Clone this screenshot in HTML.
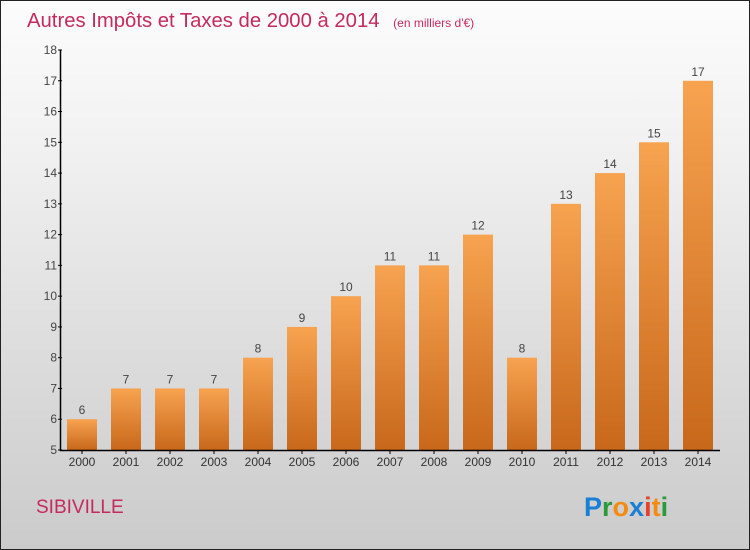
<!DOCTYPE html>
<html><head><meta charset="utf-8"><style>
body{margin:0;width:750px;height:550px;overflow:hidden}
#c{position:absolute;left:0;top:0;width:748px;height:548px;border:1px solid #222;background:linear-gradient(#fcfcfc,#f2f2f2 25%,#dcdcdc 65%,#cbcbcb);font-family:"Liberation Sans",sans-serif}
</style></head><body>
<div id="c">
<svg width="750" height="550" style="position:absolute;left:-1px;top:-1px" id="svg">
<defs><linearGradient id="bg" x1="0" y1="0" x2="0" y2="1"><stop offset="0" stop-color="#f7a350"/><stop offset="1" stop-color="#c8681a"/></linearGradient></defs>
<text x="27" y="27" font-size="20.3" fill="#c42a5e">Autres Impôts et Taxes de 2000 à 2014 <tspan font-size="12" dx="8">(en milliers d'€)</tspan></text>
<text x="36" y="513" font-size="19" fill="#c42a5e">SIBIVILLE</text>
<g font-size="27" font-weight="bold" font-family="'Liberation Sans',sans-serif">
<text x="584" y="516" fill="#1a7fd4">P<tspan fill="#2a9a3a">r</tspan><tspan fill="#f58a10">o</tspan><tspan fill="#1a7fd4">x</tspan><tspan fill="#e8402a">i</tspan><tspan fill="#f58a10">t</tspan><tspan fill="#2a9a3a">i</tspan></text></g>
<g id="plot"></g>
</svg></div>
<script>
const years=["2000","2001","2002","2003","2004","2005","2006","2007","2008","2009","2010","2011","2012","2013","2014"];
const values=[6,7,7,7,8,9,10,11,11,12,8,13,14,15,17];
const yTicks=[5,6,7,8,9,10,11,12,13,14,15,16,17,18];
const ns="http://www.w3.org/2000/svg",g=document.getElementById('plot');
const y=v=>450-(v-5)*400/13, x=i=>82+i*44;
function mk(t,a,txt){const e=document.createElementNS(ns,t);for(const k in a)e.setAttribute(k,a[k]);if(txt!==undefined)e.textContent=txt;g.appendChild(e);return e;}
values.forEach((v,i)=>{
 const b=mk('rect',{x:x(i)-15,y:y(v),width:30,height:450-y(v),fill:'url(#bg)'});
 
 
 const l=mk('text',{x:x(i),y:y(v)-5,'font-size':12,fill:'#444','text-anchor':'middle'},v);
 
 
 const xl=mk('text',{x:x(i),y:466,'font-size':12,fill:'#333','text-anchor':'middle'},years[i]);
 
 
 mk('line',{x1:x(i),x2:x(i),y1:450,y2:454,stroke:'#000'});
});
yTicks.forEach(t=>{
 mk('line',{x1:58,x2:62,y1:y(t),y2:y(t),stroke:'#000'});
 const e=mk('text',{x:57,y:y(t)+4,'font-size':12,fill:'#444','text-anchor':'end'},t);
 
 
});
const ya=mk('line',{x1:60.5,x2:60.5,y1:50,y2:451,stroke:'#000','stroke-width':1.5});


const xa=mk('line',{x1:60,x2:720,y1:450.5,y2:450.5,stroke:'#000','stroke-width':1.5});


</script>
</body></html>
